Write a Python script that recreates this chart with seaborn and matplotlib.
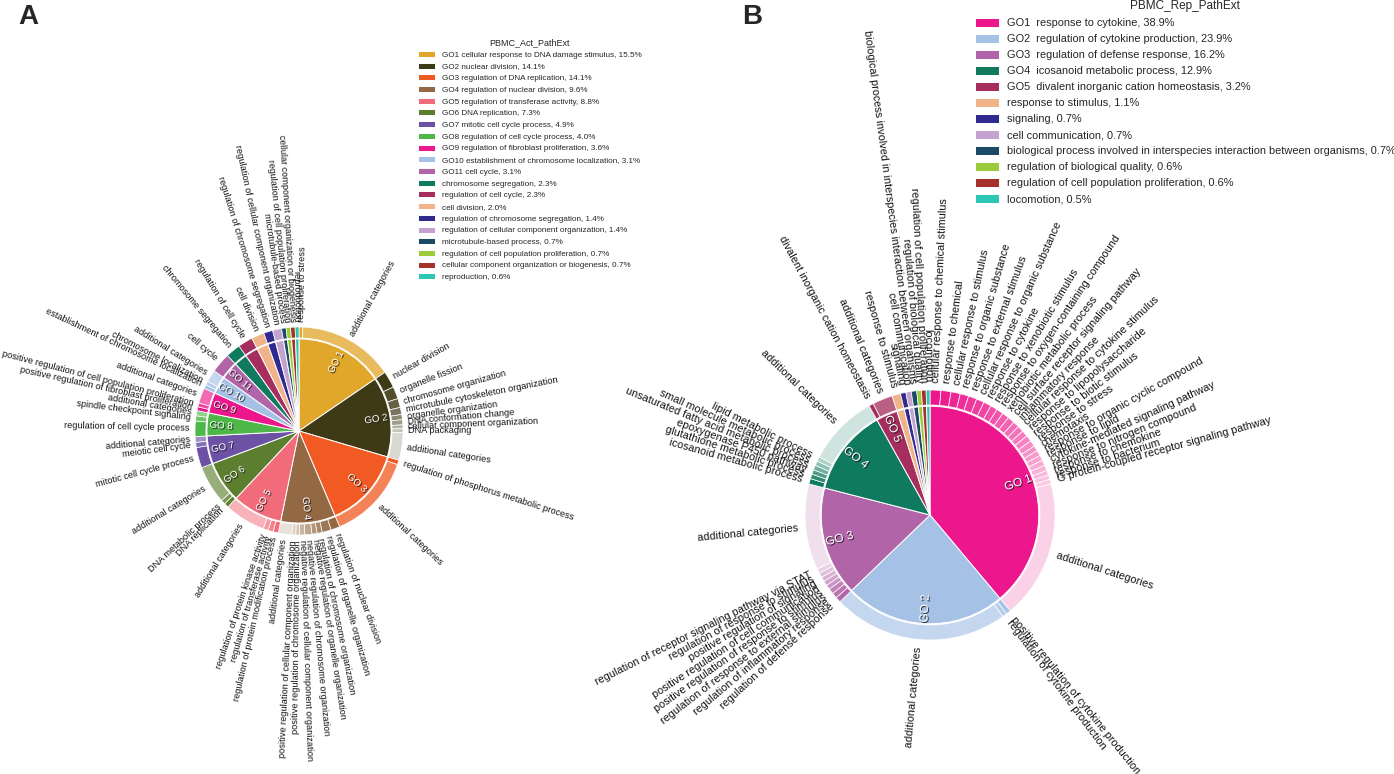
import numpy as np
import matplotlib
matplotlib.use("Agg")
import matplotlib.pyplot as plt
import matplotlib.patheffects as pe
from matplotlib.colors import to_rgb
import seaborn as sns

sns.set_theme(style="white")
plt.rcParams['font.family'] = ['Liberation Sans', 'DejaVu Sans']

# ---------------- panel A : PBMC_Act_PathExt ----------------
a_terms = ["cellular response to DNA damage stimulus", "nuclear division",
           "regulation of DNA replication", "regulation of nuclear division",
           "regulation of transferase activity", "DNA replication",
           "mitotic cell cycle process", "regulation of cell cycle process",
           "regulation of fibroblast proliferation",
           "establishment of chromosome localization", "cell cycle",
           "chromosome segregation", "regulation of cell cycle", "cell division",
           "regulation of chromosome segregation",
           "regulation of cellular component organization",
           "microtubule-based process", "regulation of cell population proliferation",
           "cellular component organization or biogenesis", "reproduction"]
a_pct = [15.5, 14.1, 14.1, 9.6, 8.8, 7.3, 4.9, 4.0, 3.6, 3.1, 3.1,
         2.3, 2.3, 2.0, 1.4, 1.4, 0.7, 0.7, 0.7, 0.6]
a_go_count = 11

a_go1_kids = ["response to stress", "additional categories"]
a_go1_kpct = [0.6, 14.9]
a_go2_kids = ["nuclear division", "organelle fission", "chromosome organization",
              "microtubule cytoskeleton organization", "organelle organization",
              "DNA conformation change", "cellular component organization",
              "DNA packaging", "additional categories"]
a_go2_kpct = [2.6, 1.9, 1.4, 1.1, 0.8, 0.8, 0.6, 0.6, 4.3]
a_go3_kids = ["regulation of phosphorus metabolic process", "additional categories"]
a_go3_kpct = [0.7, 13.4]
a_go4_kids = ["regulation of nuclear division", "regulation of organelle organization",
              "regulation of chromosome organization",
              "negative regulation of organelle organization",
              "negative regulation of chromosome organization",
              "negative regulation of cellular component organization",
              "positive regulation of chromosome organization",
              "positive regulation of cellular component organization",
              "additional categories"]
a_go4_kpct = [1.4, 1.4, 0.8, 0.8, 1.1, 0.8, 0.6, 0.6, 2.1]
a_go5_kids = ["regulation of protein modification process",
              "regulation of transferase activity",
              "regulation of protein kinase activity", "additional categories"]
a_go5_kpct = [0.8, 0.8, 0.8, 6.4]
a_go6_kids = ["DNA replication", "DNA metabolic process", "additional categories"]
a_go6_kpct = [0.7, 0.7, 5.9]
a_go7_kids = ["mitotic cell cycle process", "meiotic cell cycle", "additional categories"]
a_go7_kpct = [3.2, 0.8, 0.9]
a_go8_kids = ["regulation of cell cycle process", "spindle checkpoint signaling",
              "additional categories"]
a_go8_kpct = [2.4, 0.8, 0.8]
a_go9_kids = ["positive regulation of fibroblast proliferation",
              "positive regulation of cell population proliferation",
              "additional categories"]
a_go9_kpct = [0.6, 0.6, 2.4]
a_go10_kids = ["establishment of chromosome localization", "chromosome localization",
               "additional categories"]
a_go10_kpct = [0.6, 0.6, 1.9]

# ---------------- panel B : PBMC_Rep_PathExt ----------------
b_terms = ["response to cytokine", "regulation of cytokine production",
           "regulation of defense response", "icosanoid metabolic process",
           "divalent inorganic cation homeostasis", "response to stimulus",
           "signaling", "cell communication",
           "biological process involved in interspecies interaction between organisms",
           "regulation of biological quality",
           "regulation of cell population proliferation", "locomotion"]
b_pct = [38.9, 23.9, 16.2, 12.9, 3.2, 1.1, 0.7, 0.7, 0.7, 0.6, 0.6, 0.5]
b_go_count = 5

b_go1_kids = ["cellular response to chemical stimulus", "response to chemical",
              "cellular response to stimulus", "response to organic substance",
              "response to external stimulus", "cellular response to organic substance",
              "response to cytokine", "response to xenobiotic stimulus",
              "response to oxygen-containing compound", "xenobiotic metabolic process",
              "cell surface receptor signaling pathway", "inflammatory response",
              "cellular response to cytokine stimulus", "response to lipopolysaccharide",
              "response to biotic stimulus", "response to stress", "chemotaxis",
              "response to organic cyclic compound", "response to lipid",
              "cytokine-mediated signaling pathway", "response to nitrogen compound",
              "response to chemokine", "response to bacterium",
              "G protein-coupled receptor signaling pathway", "additional categories"]
b_go1_kpct = [1.4, 1.3, 1.2, 1.1, 1.1, 1.0, 1.0, 0.9, 0.9, 0.9, 0.9, 0.8, 0.8,
              0.8, 0.8, 0.8, 0.7, 0.7, 0.7, 0.7, 0.7, 0.6, 0.6, 0.6, 17.9]
b_go2_kids = ["positive regulation of cytokine production",
              "regulation of cytokine production", "additional categories"]
b_go2_kpct = [0.6, 0.6, 22.7]
b_go3_kids = ["regulation of defense response", "regulation of inflammatory response",
              "regulation of response to external stimulus",
              "positive regulation of response to stimulus",
              "positive regulation of cell communication",
              "positive regulation of signaling", "regulation of response to stimulus",
              "regulation of receptor signaling pathway via STAT",
              "additional categories"]
b_go3_kpct = [0.7, 0.7, 0.7, 0.6, 0.6, 0.6, 0.6, 0.6, 11.1]
b_go4_kids = ["icosanoid metabolic process", "glutathione metabolic process",
              "epoxygenase P450 pathway", "unsaturated fatty acid metabolic process",
              "small molecule metabolic process", "lipid metabolic process",
              "additional categories"]
b_go4_kpct = [0.7, 0.6, 0.6, 0.6, 0.6, 0.6, 9.2]
b_go5_kids = ["divalent inorganic cation homeostasis", "additional categories"]
b_go5_kpct = [0.6, 2.6]

palette = sns.color_palette([
    "#E1A72B", "#3E3A16", "#F15A22", "#936944", "#F16B7A", "#5C7F2F",
    "#6C51A4", "#4DB748", "#EC178C", "#A5C1E6", "#B264A9", "#0F7A5E",
    "#A52E5E", "#F1B38A", "#2F2A8E", "#C5A3D1", "#1C4963", "#9CCB3B",
    "#A5322A", "#2DC5B3"])

W, H = 1394, 774
fig = plt.figure(figsize=(W / 100, H / 100), dpi=100)


def shade(c, t):
    c = np.array(to_rgb(c))
    return tuple(c + (1 - c) * t)


def ring_colors(base, n):
    if n == 1:
        return [base]
    t_last = min(0.8, 0.12 * n)
    return [shade(base, t_last * i / (n - 1)) for i in range(n)]


def radial_text(ax, mid, r, s, **kw):
    a = np.deg2rad(mid)
    m = (mid + 180) % 360 - 180
    if -90 <= m <= 90:
        rot, ha = m, 'left'
    else:
        rot, ha = (m - 180 if m > 0 else m + 180), 'right'
    if kw.pop('center', False):
        ha = 'center'
    return ax.text(r * np.cos(a), r * np.sin(a), s, rotation=rot,
                   rotation_mode='anchor', ha=ha, va='center', clip_on=False, **kw)


def draw_panel(cx, cy, R, terms, pct, n_go, kids, kpct, colors,
               inner_r, ring_w, lab_r, lab_size, go_size):
    ax = fig.add_axes([(cx - R) / W, 1 - (cy + R) / H, 2 * R / W, 2 * R / H])
    inner, _ = ax.pie(pct, radius=inner_r, colors=colors, startangle=90,
                      counterclock=False,
                      wedgeprops=dict(edgecolor='white', linewidth=0.7))
    names, vals, cols = [], [], []
    for i in range(len(terms)):
        k = kids[i] if i < len(kids) else [terms[i]]
        v = kpct[i] if i < len(kpct) else [pct[i]]
        s = pct[i] / sum(v)
        names += k
        vals += [x * s for x in v]
        cols += ring_colors(colors[i], len(k))
    outer, _ = ax.pie(vals, radius=1.0, colors=cols, startangle=90,
                      counterclock=False,
                      wedgeprops=dict(width=ring_w, edgecolor='white', linewidth=0.5))
    ax.set_xlim(-1, 1)
    ax.set_ylim(-1, 1)
    ax.axis('off')
    for w, n in zip(outer, names):
        radial_text(ax, (w.theta1 + w.theta2) / 2, lab_r, n,
                    fontsize=lab_size, color='#111111')
    for i in range(n_go):
        w = inner[i]
        radial_text(ax, (w.theta1 + w.theta2) / 2, 0.75, f"GO {i + 1}", center=True,
                    fontsize=go_size, color='white',
                    path_effects=[pe.withSimplePatchShadow(offset=(0.8, -0.8),
                                                           shadow_rgbFace='#222222',
                                                           alpha=0.9)])
    return ax, inner


# panel A
a_kids = [a_go1_kids, a_go2_kids, a_go3_kids, a_go4_kids, a_go5_kids, a_go6_kids,
          a_go7_kids, a_go8_kids, a_go9_kids, a_go10_kids]
a_kpct = [a_go1_kpct, a_go2_kpct, a_go3_kpct, a_go4_kpct, a_go5_kpct, a_go6_kpct,
          a_go7_kpct, a_go8_kpct, a_go9_kpct, a_go10_kpct]
axA, wedA = draw_panel(299, 431, 104, a_terms, a_pct, a_go_count, a_kids, a_kpct,
                       palette[:len(a_terms)], 0.885, 0.105, 1.05, 6.6, 7)
a_leg = [(f"GO{i + 1} " if i < a_go_count else "") + f"{t}, {p:.1f}%"
         for i, (t, p) in enumerate(zip(a_terms, a_pct))]
axA.legend(wedA, a_leg, title="PBMC_Act_PathExt", loc='upper left',
           bbox_to_anchor=(418 / W, 1 - 38 / H), bbox_transform=fig.transFigure,
           frameon=False, fontsize=5.9, title_fontsize=6.5, handlelength=2.1,
           handleheight=0.75, labelspacing=0.47, handletextpad=0.85,
           borderpad=0, borderaxespad=0)

# panel B
b_kids = [b_go1_kids, b_go2_kids, b_go3_kids, b_go4_kids, b_go5_kids]
b_kpct = [b_go1_kpct, b_go2_kpct, b_go3_kpct, b_go4_kpct, b_go5_kpct]
axB, wedB = draw_panel(930, 515, 125, b_terms, b_pct, b_go_count, b_kids, b_kpct,
                       palette[8:8 + len(b_terms)], 0.87, 0.12, 1.06, 7.8, 8.5)
b_leg = [(f"GO{i + 1}  " if i < b_go_count else "") + f"{t}, {p:.1f}%"
         for i, (t, p) in enumerate(zip(b_terms, b_pct))]
axB.legend(wedB, b_leg, title="PBMC_Rep_PathExt", loc='upper left',
           bbox_to_anchor=(975 / W, 1 - 0 / H), bbox_transform=fig.transFigure,
           frameon=False, fontsize=7.9, title_fontsize=8.5, handlelength=2.2,
           handleheight=0.9, labelspacing=0.52, handletextpad=0.7,
           borderpad=0, borderaxespad=0)

fig.text(18 / W, 1 - 4 / H, "A", fontsize=20, fontweight='bold', va='top')
fig.text(742 / W, 1 - 4 / H, "B", fontsize=20, fontweight='bold', va='top')

fig.savefig("out.png", dpi=100)
